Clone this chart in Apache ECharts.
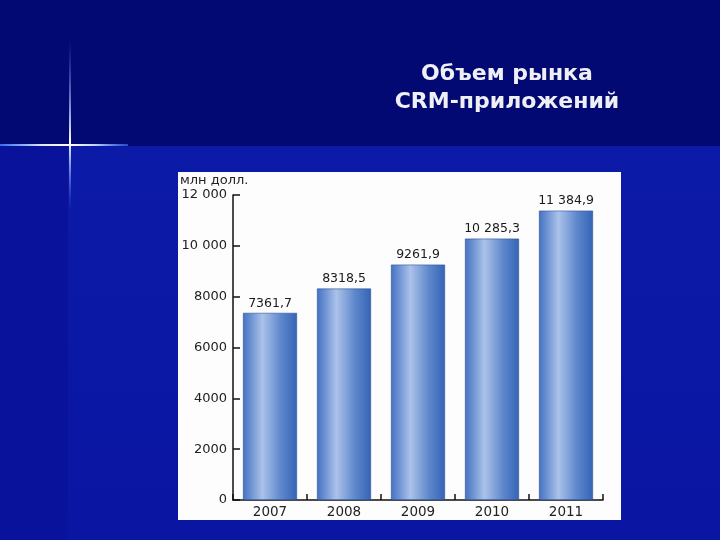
<!DOCTYPE html>
<html><head><meta charset="utf-8">
<script src="https://cdn.jsdelivr.net/npm/echarts@6/dist/echarts.min.js"></script>
<style>html,body{margin:0;padding:0;background:#06107e;}#c{width:720px;height:540px;}</style>
</head><body><div id="c"></div>
<script>
const categories = ['2007', '2008', '2009', '2010', '2011'];
const values = [7361.7, 8318.5, 9261.9, 10285.3, 11384.9];
const yTicks = [0, 2000, 4000, 6000, 8000, 10000, 12000];
const titleLines = ['Объем рынка', 'CRM-приложений'];
const unitLabel = 'млн долл.';

function fmtInt(v) {
  const s = String(Math.round(v));
  return s.length >= 5 ? s.replace(/\B(?=(\d{3})+(?!\d))/g, ' ') : s;
}
function fmtVal(v) {
  const ip = Math.floor(v);
  const dec = Math.round((v - ip) * 10);
  return fmtInt(ip) + ',' + dec;
}

const chart = echarts.init(document.getElementById('c'), null, {renderer: 'canvas'});
chart.setOption({
  animation: false,
  backgroundColor: '#06107e',
  title: {
    text: titleLines.join('\n'),
    left: 502, top: 55, textAlign: 'center',
    textStyle: {color: '#eef0f6', fontFamily: 'DejaVu Sans', fontWeight: 'bold', fontSize: 22, lineHeight: 28}
  },
  graphic: [
    {type: 'rect', z: -10, shape: {x: 0, y: 0, width: 720, height: 146}, style: {fill: '#030972'}},
    {type: 'rect', z: -10, shape: {x: 0, y: 146, width: 720, height: 394},
      style: {fill: new echarts.graphic.LinearGradient(0, 0, 0, 1, [{offset: 0, color: '#0c1aa8'}, {offset: 1, color: '#0a16a2'}])}},
    {type: 'rect', z: -9, shape: {x: 0, y: 146, width: 68, height: 394}, style: {fill: '#08129a'}},
    {type: 'rect', z: -8, shape: {x: 69, y: 40, width: 2, height: 170},
      style: {fill: new echarts.graphic.LinearGradient(0, 0, 0, 1, [{offset: 0, color: 'rgba(80,130,255,0)'}, {offset: 0.6, color: '#ffffff'}, {offset: 1, color: 'rgba(80,130,255,0)'}])}},
    {type: 'rect', z: -8, shape: {x: 0, y: 144, width: 128, height: 2},
      style: {fill: new echarts.graphic.LinearGradient(0, 0, 1, 0, [{offset: 0, color: 'rgba(60,120,255,0.9)'}, {offset: 0.33, color: '#dfe8ff'}, {offset: 0.55, color: '#ffffff'}, {offset: 0.75, color: '#bcd0ff'}, {offset: 1, color: 'rgba(60,120,255,0.6)'}])}},
    {type: 'rect', z: -7, shape: {x: 178, y: 172, width: 443, height: 348}, style: {fill: '#fdfdfd'}},
    {type: 'text', z: 5, left: 180, top: 174, style: {text: unitLabel, fill: '#222', font: '13px "DejaVu Sans", sans-serif'}}
  ],
  grid: {left: 233, right: 117, top: 195, bottom: 40},
  xAxis: {
    type: 'category', data: categories,
    axisLine: {lineStyle: {color: '#111', width: 1.5}},
    axisTick: {show: true, inside: true, length: 6, lineStyle: {color: '#111', width: 1.5}},
    axisLabel: {color: '#222', fontSize: 13.5, fontFamily: 'DejaVu Sans', margin: 5}
  },
  yAxis: {
    type: 'value', min: 0, max: 12000, interval: 2000,
    axisLine: {show: true, lineStyle: {color: '#111', width: 1.5}},
    axisTick: {show: true, inside: true, length: 7, lineStyle: {color: '#111', width: 1.5}},
    splitLine: {show: false},
    axisLabel: {color: '#222', fontSize: 13, fontFamily: 'DejaVu Sans', margin: 6,
      formatter: v => yTicks.includes(v) ? fmtInt(v) : ''}
  },
  series: [{
    type: 'bar', data: values, barWidth: 54,
    itemStyle: {
      color: new echarts.graphic.LinearGradient(0, 0, 1, 0, [
        {offset: 0, color: '#4371c2'},
        {offset: 0.36, color: '#abc2ea'},
        {offset: 0.7, color: '#5f88cc'},
        {offset: 1, color: '#3464b6'}
      ]),
      borderColor: '#2c4f98', borderWidth: 0.6
    },
    label: {show: true, position: 'top', distance: 3, color: '#1a1a1a', fontSize: 12.5, fontFamily: 'DejaVu Sans',
      formatter: p => fmtVal(p.value)}
  }]
});
</script></body></html>
